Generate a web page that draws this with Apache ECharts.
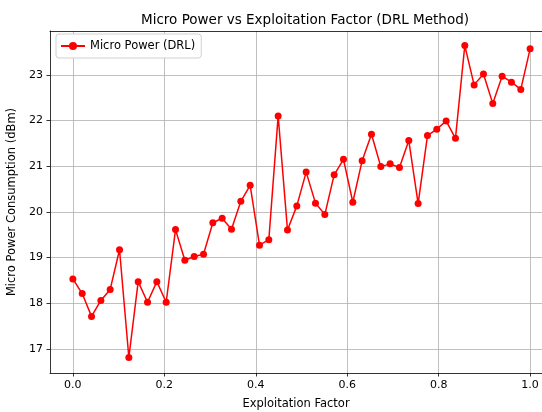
<!DOCTYPE html>
<html>
<head>
<meta charset="utf-8">
<script src="https://cdn.jsdelivr.net/npm/echarts@6/dist/echarts.min.js"></script>
<style>
  html, body { margin: 0; padding: 0; background: #fff; }
  #chart { width: 542px; height: 412px; }
</style>
</head>
<body>
<div id="chart"></div>
<script>
// exploitation factor: 50 evenly spaced points on [0, 1]
const exploitation = Array.from({ length: 50 }, (_, i) => i / 49)

const microPower = [
  18.53, 18.21, 17.71, 18.06, 18.30, 19.17, 16.81, 18.47, 18.02, 18.47,
  18.02, 19.61, 18.94, 19.02, 19.07, 19.76, 19.86, 19.62, 20.23, 20.58,
  19.27, 19.39, 22.10, 19.60, 20.13, 20.87, 20.19, 19.94, 20.81, 21.15,
  20.21, 21.12, 21.70, 20.99, 21.05, 20.97, 21.56, 20.18, 21.67, 21.81,
  21.99, 21.61, 23.64, 22.78, 23.02, 22.37, 22.97, 22.84, 22.68, 23.57,
]

const xTicks = [0, 0.2, 0.4, 0.6, 0.8, 1.0]
const yTicks = [17, 18, 19, 20, 21, 22, 23]

const chart = echarts.init(document.getElementById('chart'), null, { renderer: 'canvas' })

const font = 'DejaVu Sans, sans-serif'
const axisCommon = {
  axisLine: { show: true, onZero: false, lineStyle: { color: '#000', width: 0.8 } },
  axisTick: { show: true, length: 3.5, lineStyle: { color: '#000', width: 0.8 } },
  splitLine: { show: true, lineStyle: { color: '#b0b0b0', width: 0.8 } },
  nameLocation: 'middle',
  nameTextStyle: { color: '#000', fontSize: 11.5, fontFamily: font },
}
// the figure is cut off on the right, so the x range stops just past 1.0
const xMin = -0.05, xMax = 1.026

chart.setOption({
  animation: false,
  backgroundColor: '#fff',
  title: {
    text: 'Micro Power vs Exploitation Factor (DRL Method)',
    left: 300, top: 8, textAlign: 'center',
    textStyle: { color: '#000', fontSize: 13.5, fontWeight: 'normal', fontFamily: font },
  },
  legend: {
    left: 56, top: 34,
    padding: [6, 6, 6, 4],
    itemWidth: 24, itemHeight: 10, itemGap: 6,
    backgroundColor: '#fff',
    borderColor: '#d0d0d0', borderWidth: 1, borderRadius: 3,
    textStyle: { color: '#000', fontSize: 11.5, fontFamily: font },
    data: ['Micro Power (DRL)'],
  },
  grid: { left: 50, top: 31, right: 0, bottom: 39, containLabel: false, outerBoundsMode: 'none' },
  xAxis: [{
    ...axisCommon,
    type: 'value',
    min: xMin, max: xMax,
    name: 'Exploitation Factor', nameGap: 25,
    axisTick: { ...axisCommon.axisTick, customValues: xTicks },
    axisLabel: { customValues: xTicks, color: '#000', fontSize: 11, fontFamily: font, margin: 7,
      formatter: v => v.toFixed(1) },
  }, {
    type: 'value', position: 'top',
    min: xMin, max: xMax,
    axisLine: { show: true, onZero: false, lineStyle: { color: '#000', width: 0.8 } },
    axisTick: { show: false }, axisLabel: { show: false }, splitLine: { show: false },
  }],
  yAxis: {
    ...axisCommon,
    type: 'value',
    min: 16.47, max: 23.96,
    name: 'Micro Power Consumption (dBm)', nameGap: 28,
    axisTick: { ...axisCommon.axisTick, customValues: yTicks },
    axisLabel: { customValues: yTicks, color: '#000', fontSize: 11, fontFamily: font, margin: 7 },
  },
  series: [{
    name: 'Micro Power (DRL)',
    type: 'line',
    data: exploitation.map((x, i) => [x, microPower[i]]),
    symbol: 'circle', symbolSize: 7,
    clip: false,
    lineStyle: { color: '#ff0000', width: 1.5 },
    itemStyle: { color: '#ff0000' },
  }],
})
</script>
</body>
</html>
